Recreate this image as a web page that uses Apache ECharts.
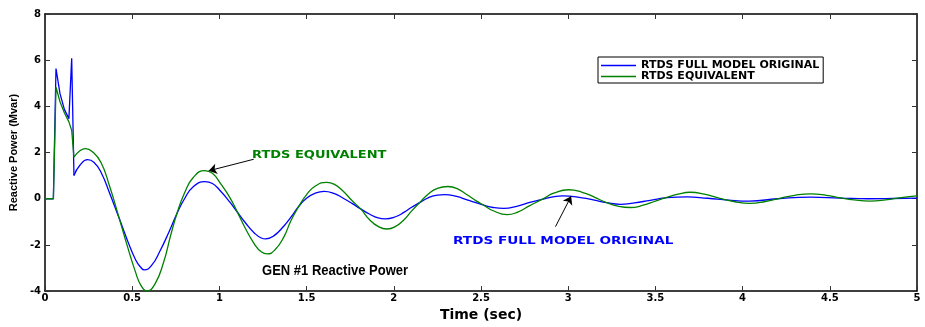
<!DOCTYPE html>
<html lang="en">
<head>
<meta charset="UTF-8">
<title>GEN #1 Reactive Power</title>
<script src="https://cdn.jsdelivr.net/npm/echarts@6/dist/echarts.min.js"></script>
<style>
  html, body { margin: 0; padding: 0; background: #fff; }
  #main { width: 925px; height: 327px; }
</style>
</head>
<body>
<div id="main"></div>
<script>
// time (s), reactive power (Mvar)
// fast transient at fault/clearing (drawn without smoothing)
var blueStart = [[0, 0], [0.048, 0], [0.063, 5.64], [0.086, 4.55], [0.111, 3.87], [0.137, 3.47], [0.153, 6.08], [0.166, 1.01]];
var greenStart = [[0, 0], [0.048, 0], [0.063, 4.83], [0.086, 4.2], [0.111, 3.72], [0.137, 3.33], [0.153, 2.96], [0.166, 1.8]];

// damped oscillation afterwards
var blueTail = [
  [0.166, 1.01], [0.20, 1.45], [0.244, 1.69], [0.28, 1.58], [0.321, 1.15], [0.37, 0.25],
  [0.426, -0.86], [0.47, -1.75], [0.52, -2.65], [0.55, -2.98], [0.569, -3.08], [0.61, -2.90],
  [0.66, -2.25], [0.71, -1.45], [0.756, -0.65], [0.80, 0.0], [0.85, 0.52], [0.916, 0.74],
  [0.96, 0.66], [1.01, 0.30], [1.06, -0.15], [1.103, -0.58], [1.15, -1.05], [1.20, -1.48],
  [1.24, -1.70], [1.266, -1.74], [1.31, -1.62], [1.37, -1.18], [1.41, -0.80], [1.457, -0.31],
  [1.50, 0.02], [1.55, 0.24], [1.60, 0.32], [1.66, 0.22], [1.71, 0.02], [1.76, -0.20],
  [1.81, -0.44], [1.86, -0.66], [1.91, -0.83], [1.95, -0.87], [2.01, -0.78], [2.06, -0.58],
  [2.10, -0.38], [2.148, -0.17], [2.20, 0.05], [2.25, 0.16], [2.29, 0.18], [2.36, 0.10],
  [2.42, -0.05], [2.47, -0.17], [2.516, -0.28], [2.57, -0.38], [2.63, -0.42], [2.71, -0.32],
  [2.78, -0.16], [2.85, -0.03], [2.92, 0.09], [2.97, 0.12], [3.08, 0.04], [3.15, -0.06],
  [3.22, -0.17], [3.30, -0.24], [3.43, -0.12], [3.50, -0.03], [3.557, 0.04], [3.68, 0.08],
  [3.80, 0.02], [3.92, -0.06], [4.04, -0.10], [4.20, 0.0], [4.39, 0.07], [4.56, 0.03],
  [4.72, 0.0], [4.86, 0.01], [5.0, 0.03]
];
var greenTail = [
  [0.166, 1.80], [0.20, 2.08], [0.233, 2.17], [0.27, 2.05], [0.321, 1.57], [0.37, 0.55],
  [0.426, -0.86], [0.47, -2.0], [0.52, -3.2], [0.55, -3.75], [0.584, -3.99], [0.63, -3.70],
  [0.68, -2.75], [0.72, -1.60], [0.756, -0.65], [0.80, 0.25], [0.85, 0.92], [0.916, 1.22],
  [0.96, 1.10], [1.01, 0.62], [1.06, 0.05], [1.103, -0.58], [1.15, -1.30], [1.20, -1.95],
  [1.24, -2.30], [1.275, -2.39], [1.32, -2.20], [1.37, -1.65], [1.41, -0.95], [1.457, -0.31],
  [1.50, 0.18], [1.55, 0.55], [1.615, 0.71], [1.66, 0.62], [1.71, 0.32], [1.76, -0.08],
  [1.81, -0.44], [1.86, -0.90], [1.91, -1.20], [1.96, -1.31], [2.01, -1.20], [2.06, -0.90],
  [2.10, -0.55], [2.148, -0.17], [2.20, 0.22], [2.25, 0.45], [2.31, 0.53], [2.36, 0.45],
  [2.42, 0.17], [2.47, -0.08], [2.516, -0.28], [2.57, -0.52], [2.65, -0.69], [2.71, -0.58],
  [2.78, -0.30], [2.85, -0.03], [2.92, 0.25], [3.003, 0.39], [3.08, 0.28], [3.15, 0.07],
  [3.22, -0.17], [3.29, -0.33], [3.356, -0.38], [3.43, -0.28], [3.50, -0.10], [3.557, 0.04],
  [3.63, 0.20], [3.70, 0.28], [3.78, 0.20], [3.87, 0.02], [3.95, -0.12], [4.04, -0.20],
  [4.13, -0.12], [4.22, 0.03], [4.30, 0.15], [4.39, 0.21], [4.48, 0.15], [4.56, 0.04],
  [4.64, -0.05], [4.73, -0.10], [4.82, -0.05], [4.91, 0.05], [5.0, 0.12]
];

// annotation arrows: [tail, head] in data coords
var greenArrow = [[1.197, 1.71], [0.939, 1.21]];
var blueArrow = [[2.927, -1.21], [3.017, 0.11]];

var BLUE = '#0000ff', GREEN = '#008000';
var lblFont = 'DejaVu Sans';

var myChart = echarts.init(document.getElementById('main'));

function arrowLine(pts) {
  return {
    silent: true,
    symbol: ['none', 'arrow'],
    symbolSize: 8,
    label: { show: false },
    itemStyle: { color: '#000' },
    lineStyle: { color: '#000', width: 1, type: 'solid' },
    data: [[{ coord: pts[0] }, { coord: pts[1] }]]
  };
}

var tickCommon = { show: true, inside: true, length: 5, lineStyle: { color: '#333' } };
var boxLine = { show: true, onZero: false, lineStyle: { color: '#000', width: 1.5 } };

var option = {
  animation: false,
  backgroundColor: '#fff',
  grid: { left: 44, right: 8, top: 14, bottom: 25 },
  legend: {
    left: 598, top: 57,
    orient: 'vertical',
    itemGap: 0,
    itemWidth: 35, itemHeight: 1.4,
    padding: [3, 4, 1, 3],
    borderColor: '#000', borderWidth: 1,
    backgroundColor: '#fff',
    icon: 'rect',
    itemStyle: { borderWidth: 0 },
    textStyle: { fontFamily: lblFont, fontWeight: 'bold', fontSize: 11, color: '#000', lineHeight: 11 },
    data: [
      { name: 'RTDS FULL MODEL ORIGINAL', itemStyle: { color: BLUE, borderWidth: 0 } },
      { name: 'RTDS EQUIVALENT', itemStyle: { color: GREEN, borderWidth: 0 } }
    ]
  },
  xAxis: [{
    type: 'value', min: 0, max: 5, interval: 0.5,
    name: 'Time (sec)', nameLocation: 'middle', nameGap: 15,
    nameTextStyle: { fontFamily: lblFont, fontWeight: 'bold', fontSize: 14, color: '#000' },
    axisLine: boxLine,
    axisTick: tickCommon,
    axisLabel: { margin: 2, fontFamily: lblFont, fontWeight: 'bold', fontSize: 10, color: '#000' },
    splitLine: { show: false }
  }, {
    type: 'value', min: 0, max: 5, interval: 0.5, position: 'top',
    axisLine: boxLine,
    axisTick: tickCommon,
    axisLabel: { show: false },
    splitLine: { show: false }
  }],
  yAxis: [{
    type: 'value', min: -4, max: 8, interval: 2,
    name: 'Reactive Power (Mvar)', nameLocation: 'middle', nameGap: 26,
    nameTextStyle: { fontFamily: 'Liberation Sans', fontWeight: 'bold', fontSize: 11, color: '#000' },
    axisLine: boxLine,
    axisTick: tickCommon,
    axisLabel: { margin: 4, fontFamily: lblFont, fontWeight: 'bold', fontSize: 10, color: '#000' },
    splitLine: { show: false }
  }, {
    type: 'value', min: -4, max: 8, interval: 2, position: 'right',
    axisLine: boxLine,
    axisTick: tickCommon,
    axisLabel: { show: false },
    splitLine: { show: false }
  }],
  series: [{
    name: 'RTDS FULL MODEL ORIGINAL', type: 'line', showSymbol: false, symbol: 'none',
    lineStyle: { color: BLUE, width: 1.3 }, itemStyle: { color: BLUE },
    data: blueStart
  }, {
    name: 'RTDS FULL MODEL ORIGINAL', type: 'line', showSymbol: false, symbol: 'none', smooth: 0.5,
    lineStyle: { color: BLUE, width: 1.3 }, itemStyle: { color: BLUE },
    data: blueTail,
    markLine: arrowLine(blueArrow)
  }, {
    name: 'RTDS EQUIVALENT', type: 'line', showSymbol: false, symbol: 'none',
    lineStyle: { color: GREEN, width: 1.3 }, itemStyle: { color: GREEN },
    data: greenStart
  }, {
    name: 'RTDS EQUIVALENT', type: 'line', showSymbol: false, symbol: 'none', smooth: 0.5,
    lineStyle: { color: GREEN, width: 1.3 }, itemStyle: { color: GREEN },
    data: greenTail,
    markLine: arrowLine(greenArrow)
  }],
  graphic: [{
    type: 'text', x: 252, y: 155, scaleX: 1.3,
    style: { text: 'RTDS EQUIVALENT', fill: GREEN, font: 'bold 10px "DejaVu Sans"', verticalAlign: 'middle' }
  }, {
    type: 'text', x: 453, y: 241, scaleX: 1.36,
    style: { text: 'RTDS FULL MODEL ORIGINAL', fill: BLUE, font: 'bold 10px "DejaVu Sans"', verticalAlign: 'middle' }
  }, {
    type: 'text', x: 262, y: 271, scaleX: 0.93,
    style: { text: 'GEN #1 Reactive Power', fill: '#000', font: 'bold 14px "Liberation Sans"', verticalAlign: 'middle' }
  }]
};

myChart.setOption(option);
</script>
</body>
</html>
